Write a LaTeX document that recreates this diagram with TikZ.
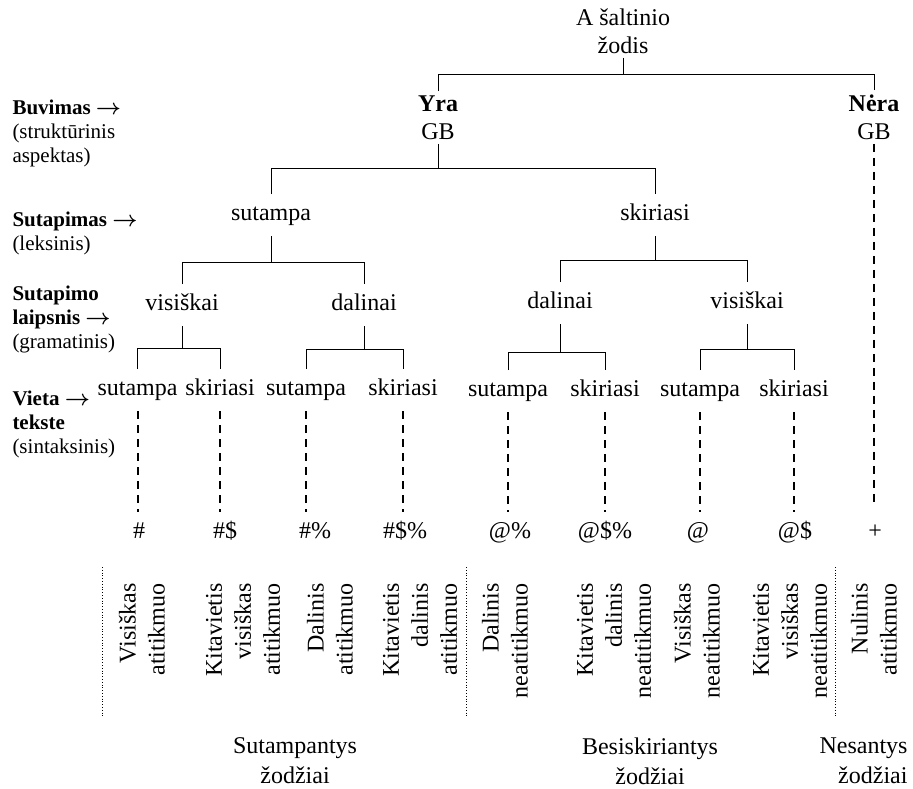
\documentclass[tikz,border=0pt]{standalone}
\usepackage{fontspec}
\setmainfont{Liberation Serif}
\usepackage{tikz}
\usetikzlibrary{calc}

\newcommand{\goesto}{{\boldmath$\rightarrow$}}

\tikzset{
  every node/.style={font=\fontsize{12}{13.8}\selectfont},
  word/.style={inner xsep=0pt, inner ysep=5pt, text height=8pt, text depth=2.5pt},
  stack/.style={align=center, inner sep=2pt},
  aspect/.style={align=left, inner sep=0pt, anchor=north west, font=\fontsize{10.5}{12}\selectfont},
  kind/.style={rotate=90, anchor=east, align=right, inner sep=0pt, font=\fontsize{12}{14.5}\selectfont},
  group/.style={align=center, inner sep=0pt, anchor=north, font=\fontsize{12}{15}\selectfont},
  dashlink/.style={line width=1pt, dash pattern=on 4pt off 3pt},
  divider/.style={densely dotted, line width=0.4pt}
}

\begin{document}
\begin{tikzpicture}[x=0.5pt, y=-0.5pt, line width=0.5pt]
			\useasboundingbox (0,0) rectangle (913,788);

			% tree
			\draw (623,31) node[stack] (src) {A šaltinio\\žodis}
			(438,117.5) node[stack] (yra) {\textbf{Yra}\\GB}
			(874,117) node[stack] (nera) {\textbf{Nėra}\\GB}
			(271,215) node[word] (sut) {sutampa}
			(655,215) node[word] (ski) {skiriasi}
			(182,305) node[word] (vis1) {visiškai}
			(364,305) node[word] (dal1) {dalinai}
			(560,303) node[word] (dal2) {dalinai}
			(747,303) node[word] (vis2) {visiškai};

			\draw (137.5,390) node[word] (l1) {sutampa}
			(220,390) node[word] (l2) {skiriasi}
			(306,390) node[word] (l3) {sutampa}
			(403,390) node[word] (l4) {skiriasi}
			(508,391) node[word] (l5) {sutampa}
			(605,391) node[word] (l6) {skiriasi}
			(700,391) node[word] (l7) {sutampa}
			(794,391) node[word] (l8) {skiriasi};

			\draw (139,532.5) node[word] (s1) {\#}
			(225,532.5) node[word] (s2) {\#\$}
			(315,532.5) node[word] (s3) {\#\%}
			(405,532.5) node[word] (s4) {\#\$\%}
			(510,532.5) node[word] (s5) {@\%}
			(605,532.5) node[word] (s6) {@\$\%}
			(698,532.5) node[word] (s7) {@}
			(795,532.5) node[word] (s8) {@\$}
			(875,532.5) node[word] (s9) {+};

			\draw (src.south) -- ++(0,-8.5pt) coordinate (f0) (yra.north) |- (f0) -| (nera.north);
			\draw (yra.south) -- ++(0,-12.3pt) coordinate (f1) (sut.north) |- (f1) -| (ski.north);
			\draw (sut.south) -- ++(0,-13.25pt) coordinate (f2) (vis1.north) |- (f2) -| (dal1.north);
			\draw (ski.south) -- ++(0,-12.25pt) coordinate (f3) (dal2.north) |- (f3) -| (vis2.north);
			\draw (vis1.south) -- ++(0,-11.25pt) coordinate (f4) (l1.north) |- (f4) -| (l2.north);
			\draw (dal1.south) -- ++(0,-11.75pt) coordinate (f5) (l3.north) |- (f5) -| (l4.north);
			\draw (dal2.south) -- ++(0,-14.25pt) coordinate (f6) (l5.north) |- (f6) -| (l6.north);
			\draw (vis2.south) -- ++(0,-12.75pt) coordinate (f7) (l7.north) |- (f7) -| (l8.north);

			\draw[dashlink] (l1.south) -- (l1.south |- s1.north);
			\draw[dashlink] (l2.south) -- (l2.south |- s2.north);
			\draw[dashlink] (l3.south) -- (l3.south |- s3.north);
			\draw[dashlink] (l4.south) -- (l4.south |- s4.north);
			\draw[dashlink] (l5.south) -- (l5.south |- s5.north);
			\draw[dashlink] (l6.south) -- (l6.south |- s6.north);
			\draw[dashlink] (l7.south) -- (l7.south |- s7.north);
			\draw[dashlink] (l8.south) -- (l8.south |- s8.north);
			\draw[dashlink, shorten >=5pt] (nera.south) -- (nera.south |- s9.north);

			% aspects on the left
			\draw (12,99) node[aspect] (a1) {\textbf{Buvimas \goesto}\\(struktūrinis\\aspektas)}
			(12,211) node[aspect] (a2) {\textbf{Sutapimas \goesto}\\(leksinis)}
			(12,285) node[aspect] (a3) {\textbf{Sutapimo}\\\textbf{laipsnis \goesto}\\(gramatinis)}
			(12,390) node[aspect] (a4) {\textbf{Vieta \goesto}\\\textbf{tekste}\\(sintaksinis)};

			% kinds of correspondence
			\draw (142,583) node[kind] (k1) {Visiškas\\atitikmuo}
			(243,583) node[kind] (k2) {Kitavietis\\visiškas\\atitikmuo}
			(330,583) node[kind] (k3) {Dalinis\\atitikmuo}
			(420,583) node[kind] (k4) {Kitavietis\\dalinis\\atitikmuo}
			(505,583) node[kind] (k5) {Dalinis\\neatitikmuo}
			(614,583) node[kind] (k6) {Kitavietis\\dalinis\\neatitikmuo}
			(697,583) node[kind] (k7) {Visiškas\\neatitikmuo}
			(790,583) node[kind] (k8) {Kitavietis\\visiškas\\neatitikmuo}
			(874,583) node[kind] (k9) {Nulinis\\atitikmuo};

			\draw[divider] (102,567) -- (102,717);
			\draw[divider] (466,567) -- (466,717);
			\draw[divider] (835,567) -- (835,717);

			\draw (295,737) node[group] (g1) {Sutampantys\\žodžiai}
			(650,737) node[group] (g2) {Besiskiriantys\\žodžiai}
			(908,737) node[group, anchor=north east, align=right] (g3) {Nesantys\\žodžiai};
		\end{tikzpicture}
\end{document}
